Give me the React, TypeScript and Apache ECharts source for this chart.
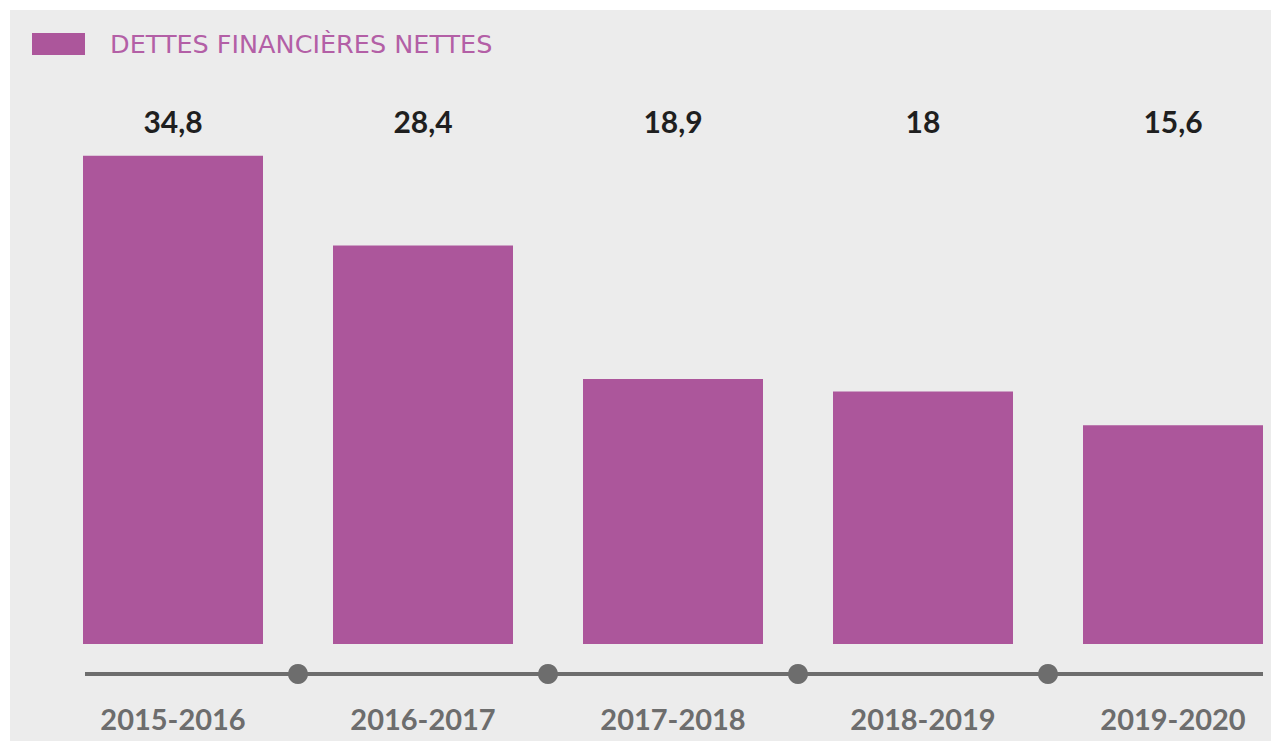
import React, { useEffect, useRef } from "react";
import * as echarts from "echarts";

const categories = ["2015-2016", "2016-2017", "2017-2018", "2018-2019", "2019-2020"];
const debtValues = [34.8, 28.4, 18.9, 18, 15.6];
const valueLabels = ["34,8", "28,4", "18,9", "18", "15,6"];
const seriesName = "DETTES FINANCIÈRES NETTES";

const BAR_COLOR = "#ac569b";
const AXIS_GRAY = "#6d6d6d";
const BAR_WIDTH = 180;

export default function App() {
  const ref = useRef<HTMLDivElement>(null);
  useEffect(() => {
    if (!ref.current) return;
    const chart = echarts.init(ref.current, undefined, { renderer: "svg" });
    const last = categories.length - 1;
    chart.setOption({
      animation: false,
      backgroundColor: "#ffffff",
      graphic: [
        {
          type: "rect",
          z: -10,
          silent: true,
          shape: { x: 10, y: 10, width: 1261, height: 731 },
          style: { fill: "#ececec" },
        },
      ],
      legend: {
        left: 32,
        top: 31,
        padding: 0,
        itemWidth: 53,
        itemHeight: 22,
        icon: "rect",
        data: [seriesName],
        textStyle: {
          color: "#b35fa6",
          fontFamily: "DejaVu Sans",
          fontSize: 25.5,
          padding: [0, 0, 0, 20],
        },
      },
      grid: {
        left: 48,
        width: 1250,
        top: 139,
        bottom: 107,
        outerBoundsMode: "none",
        containLabel: false,
      },
      xAxis: [
        {
          type: "category",
          data: categories,
          axisLine: { show: false },
          axisTick: { show: false },
          splitLine: { show: false },
          axisLabel: {
            margin: 60,
            color: AXIS_GRAY,
            fontFamily: "Lato",
            fontWeight: "bold",
            fontSize: 29,
            interval: 0,
          },
        },
        {
          type: "category",
          position: "top",
          data: categories,
          axisLine: { show: false },
          axisTick: { show: false },
          splitLine: { show: false },
          axisLabel: {
            margin: 3,
            color: "#1f1f1f",
            fontFamily: "Lato",
            fontWeight: "bold",
            fontSize: 30,
            interval: 0,
            formatter: (_v: string, i: number) => valueLabels[i],
          },
        },
      ],
      yAxis: {
        type: "value",
        min: 0,
        max: 36,
        show: false,
        splitLine: { show: false },
      },
      series: [
        {
          name: seriesName,
          type: "bar",
          data: debtValues,
          barWidth: BAR_WIDTH,
          itemStyle: { color: BAR_COLOR },
        },
        {
          type: "custom",
          name: "timeline",
          silent: true,
          clip: false,
          data: debtValues.map((_, i) => [i, 0]),
          renderItem: (params: any, api: any) => {
            const i = params.dataIndex;
            const c = api.coord([i, 0]);
            const bw = api.size([1, 0])[0];
            const y = c[1] + 30;
            const x0 = i === 0 ? c[0] - BAR_WIDTH / 2 + 2 : c[0] - bw / 2;
            const x1 = i === last ? c[0] + BAR_WIDTH / 2 : c[0] + bw / 2;
            const children: any[] = [
              {
                type: "line",
                shape: { x1: x0, y1: y, x2: x1, y2: y },
                style: { stroke: AXIS_GRAY, lineWidth: 4 },
              },
            ];
            if (i > 0) {
              children.push({
                type: "circle",
                shape: { cx: c[0] - bw / 2, cy: y, r: 10 },
                style: { fill: AXIS_GRAY },
                z2: 5,
              });
            }
            return { type: "group", children };
          },
        },
      ],
    });
    return () => chart.dispose();
  }, []);
  return (
    <div
      ref={ref}
      style={{ position: "fixed", left: 0, top: 0, width: 1271, height: 751 }}
    />
  );
}
